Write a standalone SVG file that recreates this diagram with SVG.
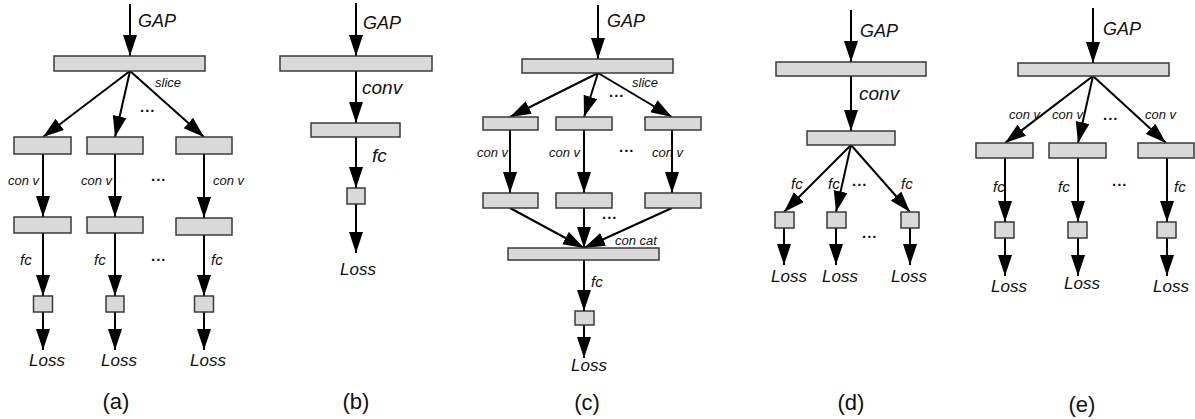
<svg xmlns="http://www.w3.org/2000/svg" width="1195" height="419" viewBox="0 0 1195 419">
<style>
.box{fill:#d9d9d9;stroke:#3a3a3a;stroke-width:1.5}
.ln{fill:none;stroke:#000;stroke-width:2;marker-end:url(#ah)}
.t{font-family:"Liberation Sans",Arial,sans-serif;font-style:italic;fill:#111}
.s{font-size:13px}
.f{font-size:15px}
.m{font-size:19px}
.g{font-size:18px}
.l{font-size:17px}
.d{font-family:"Liberation Sans",Arial,sans-serif;font-weight:bold;font-size:15px;letter-spacing:1px;fill:#111}
.c{font-family:"Liberation Sans",Arial,sans-serif;font-size:22px;fill:#111;text-anchor:middle}
</style>
<defs>
<marker id="ah" markerUnits="userSpaceOnUse" markerWidth="24" markerHeight="16" refX="21" refY="7" orient="auto">
<path d="M0,0 L21,7 L0,14 z" fill="#000"/>
</marker>
</defs>

<g id="connectors">
<!-- (a) -->
<path class="ln" d="M130,4 L130,56"/>
<path class="ln" d="M130,71 L43,137"/>
<path class="ln" d="M130,71 L115,137"/>
<path class="ln" d="M130,71 L204,137"/>
<path class="ln" d="M43,154 L43,217"/>
<path class="ln" d="M115,154 L115,217"/>
<path class="ln" d="M204,154 L204,218"/>
<path class="ln" d="M43,233 L43,296"/>
<path class="ln" d="M115,233 L115,296"/>
<path class="ln" d="M204,235 L204,296"/>
<path class="ln" d="M43,312 L43,350"/>
<path class="ln" d="M115,312 L115,350"/>
<path class="ln" d="M204,312 L204,350"/>
<!-- (b) -->
<path class="ln" d="M356,3 L356,56"/>
<path class="ln" d="M356,71 L356,123"/>
<path class="ln" d="M356,137 L356,188"/>
<path class="ln" d="M356,204 L356,253"/>
<!-- (c) -->
<path class="ln" d="M598,5 L598,59"/>
<path class="ln" d="M598,73 L510,117"/>
<path class="ln" d="M598,73 L584,117"/>
<path class="ln" d="M598,73 L672,117"/>
<path class="ln" d="M510,130 L510,193"/>
<path class="ln" d="M584,130 L584,193"/>
<path class="ln" d="M672,130 L672,193"/>
<path class="ln" d="M510,208 L584,248"/>
<path class="ln" d="M584,208 L584,248"/>
<path class="ln" d="M672,208 L584,248"/>
<path class="ln" d="M584,260 L584,311"/>
<path class="ln" d="M584,325 L584,358"/>
<!-- (d) -->
<path class="ln" d="M851,10 L851,62"/>
<path class="ln" d="M851,76 L851,131"/>
<path class="ln" d="M851,145 L784,212"/>
<path class="ln" d="M851,145 L836,212"/>
<path class="ln" d="M851,145 L910,212"/>
<path class="ln" d="M784,228 L784,265"/>
<path class="ln" d="M836,228 L836,265"/>
<path class="ln" d="M910,228 L910,265"/>
<!-- (e) -->
<path class="ln" d="M1093,8 L1093,63"/>
<path class="ln" d="M1093,76 L1005,143"/>
<path class="ln" d="M1093,76 L1078,143"/>
<path class="ln" d="M1093,76 L1166,143"/>
<path class="ln" d="M1005,158 L1005,222"/>
<path class="ln" d="M1078,158 L1078,222"/>
<path class="ln" d="M1167,158 L1167,222"/>
<path class="ln" d="M1005,238 L1005,276"/>
<path class="ln" d="M1078,238 L1078,276"/>
<path class="ln" d="M1167,238 L1167,276"/>
</g>

<!-- panel (a) -->
<g id="a-gap"><rect class="box" x="54" y="56" width="151" height="15"/><text class="t g" x="138" y="27">GAP</text><text class="t s" x="155" y="87">slice</text><text class="d" x="140" y="112">...</text></g>
<g id="a-b1"><rect class="box" x="14" y="137" width="57" height="17"/><text class="t s" x="8" y="185">con v</text></g>
<g id="a-b2"><rect class="box" x="87" y="137" width="56" height="17"/><text class="t s" x="81" y="185">con v</text></g>
<g id="a-b3"><rect class="box" x="176" y="137" width="56" height="17"/><text class="t s" x="213" y="185">con v</text></g>
<text class="d" x="151" y="181">...</text>
<g id="a-c1"><rect class="box" x="14" y="217" width="57" height="16"/><text class="t f" x="20" y="265">fc</text></g>
<g id="a-c2"><rect class="box" x="87" y="217" width="56" height="16"/><text class="t f" x="94" y="265">fc</text></g>
<g id="a-c3"><rect class="box" x="176" y="218" width="56" height="17"/><text class="t f" x="211" y="265">fc</text></g>
<text class="d" x="151" y="261">...</text>
<g id="a-f1"><rect class="box" x="33.5" y="296" width="19" height="16"/><text class="t l" x="47" y="366" text-anchor="middle">Loss</text></g>
<g id="a-f2"><rect class="box" x="106" y="296" width="18" height="16"/><text class="t l" x="119" y="366" text-anchor="middle">Loss</text></g>
<g id="a-f3"><rect class="box" x="194.5" y="296" width="19" height="16"/><text class="t l" x="208" y="366" text-anchor="middle">Loss</text></g>
<text class="c" x="116" y="409">(a)</text>

<!-- panel (b) -->
<g id="b-gap"><rect class="box" x="280" y="56" width="152" height="15"/><text class="t g" x="363" y="29">GAP</text><text class="t m" x="362" y="94">conv</text></g>
<g id="b-conv"><rect class="box" x="311" y="123" width="89" height="14"/><text class="t m" x="372" y="162">fc</text></g>
<g id="b-fc"><rect class="box" x="347" y="188" width="18" height="16"/><text class="t l" x="358" y="275" text-anchor="middle">Loss</text></g>
<text class="c" x="356" y="409">(b)</text>

<!-- panel (c) -->
<g id="c-gap"><rect class="box" x="522" y="59" width="151" height="14"/><text class="t g" x="607" y="27">GAP</text><text class="t s" x="632" y="87">slice</text><text class="d" x="609" y="97">...</text></g>
<g id="c-b1"><rect class="box" x="483" y="117" width="55" height="13"/><text class="t s" x="477" y="157">con v</text></g>
<g id="c-b2"><rect class="box" x="556" y="117" width="56" height="13"/><text class="t s" x="549" y="157">con v</text></g>
<g id="c-b3"><rect class="box" x="645" y="117" width="56" height="13"/><text class="t s" x="652" y="157">con v</text></g>
<text class="d" x="619" y="152">...</text>
<g id="c-c1"><rect class="box" x="483" y="193" width="55" height="15"/></g>
<g id="c-c2"><rect class="box" x="556" y="193" width="56" height="15"/></g>
<g id="c-c3"><rect class="box" x="645" y="193" width="56" height="15"/></g>
<text class="d" x="602" y="219">...</text>
<g id="c-cat"><rect class="box" x="508" y="248" width="151" height="12"/><text class="t s" x="615" y="245">con cat</text><text class="t f" x="591" y="287">fc</text></g>
<g id="c-fc"><rect class="box" x="575" y="311" width="19" height="14"/><text class="t l" x="589" y="371" text-anchor="middle">Loss</text></g>
<text class="c" x="587" y="410">(c)</text>

<!-- panel (d) -->
<g id="d-gap"><rect class="box" x="776" y="62" width="150" height="14"/><text class="t g" x="860" y="37">GAP</text><text class="t m" x="859" y="100">conv</text></g>
<g id="d-conv"><rect class="box" x="807" y="131" width="88" height="14"/><text class="t f" x="791" y="189">fc</text><text class="t f" x="828" y="189">fc</text><text class="t f" x="901" y="189">fc</text><text class="d" x="852" y="186">...</text></g>
<g id="d-f1"><rect class="box" x="775" y="212" width="19" height="16"/><text class="t l" x="789" y="282" text-anchor="middle">Loss</text></g>
<g id="d-f2"><rect class="box" x="827" y="212" width="19" height="16"/><text class="t l" x="840" y="282" text-anchor="middle">Loss</text></g>
<g id="d-f3"><rect class="box" x="901" y="212" width="18" height="16"/><text class="t l" x="909" y="282" text-anchor="middle">Loss</text></g>
<text class="d" x="862" y="238">...</text>
<text class="c" x="851" y="410">(d)</text>

<!-- panel (e) -->
<g id="e-gap"><rect class="box" x="1018" y="63" width="151" height="13"/><text class="t g" x="1103" y="35">GAP</text><text class="t s" x="1009" y="119">con v</text><text class="t s" x="1052" y="119">con v</text><text class="t s" x="1145" y="119">con v</text><text class="d" x="1103" y="120">...</text></g>
<g id="e-b1"><rect class="box" x="976" y="143" width="57" height="15"/><text class="t f" x="993" y="192">fc</text></g>
<g id="e-b2"><rect class="box" x="1049" y="143" width="57" height="15"/><text class="t f" x="1058" y="192">fc</text></g>
<g id="e-b3"><rect class="box" x="1138" y="143" width="56" height="15"/><text class="t f" x="1174" y="192">fc</text></g>
<text class="d" x="1112" y="186">...</text>
<g id="e-f1"><rect class="box" x="995" y="222" width="19" height="16"/><text class="t l" x="1009" y="292" text-anchor="middle">Loss</text></g>
<g id="e-f2"><rect class="box" x="1068" y="222" width="19" height="16"/><text class="t l" x="1082" y="289" text-anchor="middle">Loss</text></g>
<g id="e-f3"><rect class="box" x="1157" y="222" width="19" height="16"/><text class="t l" x="1171" y="292" text-anchor="middle">Loss</text></g>
<text class="c" x="1082" y="412">(e)</text>
</svg>
